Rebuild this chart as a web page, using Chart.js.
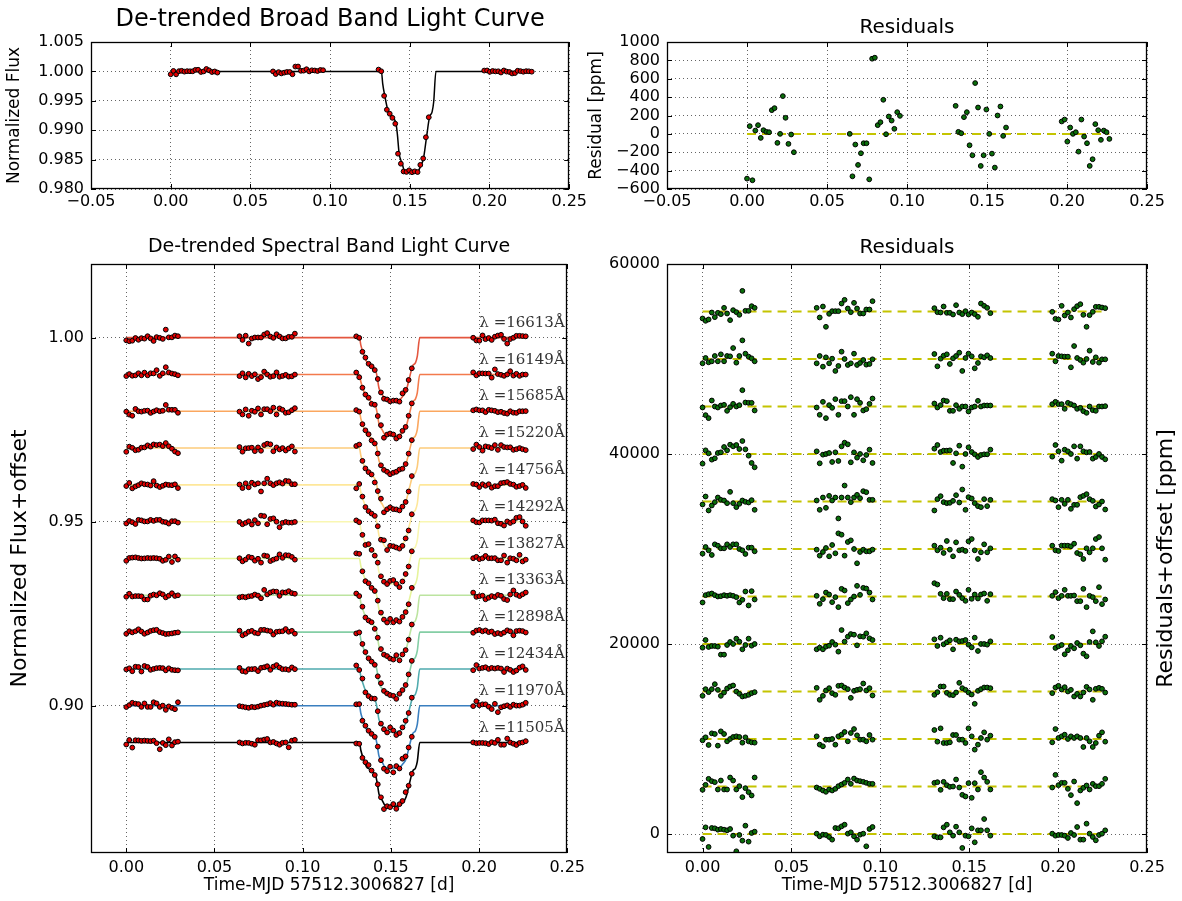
<!DOCTYPE html>
<html>
<head>
<meta charset="utf-8">
<script src="https://cdn.jsdelivr.net/npm/chart.js@4.4.1/dist/chart.umd.min.js"></script>
<style>
  html, body { margin: 0; padding: 0; background: #fff; }
  #wrap { position: relative; width: 1182px; height: 901px; overflow: hidden; }
  canvas { position: absolute; }
</style>
</head>
<body>
<div id="wrap">
  <canvas id="broadChart" width="590" height="215" style="left:0;top:0"></canvas>
  <canvas id="broadResidChart" width="597" height="215" style="left:585px;top:0"></canvas>
  <canvas id="bandChart" width="590" height="686" style="left:0;top:215px"></canvas>
  <canvas id="bandResidChart" width="597" height="686" style="left:585px;top:215px"></canvas>
</div>
<script>
// time of each exposure (d), four HST orbits
const times = [
  0.0000, 0.0017, 0.0034, 0.0052, 0.0069, 0.0086, 0.0103, 0.0121, 0.0138, 0.0155, 0.0172, 0.0190, 0.0207, 0.0224, 0.0241, 0.0259, 0.0276, 0.0293,
  0.0642, 0.0659, 0.0677, 0.0694, 0.0712, 0.0729, 0.0747, 0.0764, 0.0782, 0.0799, 0.0817, 0.0834, 0.0852, 0.0869, 0.0886, 0.0904, 0.0921, 0.0939, 0.0956,
  0.1304, 0.1321, 0.1339, 0.1356, 0.1374, 0.1391, 0.1409, 0.1426, 0.1444, 0.1461, 0.1479, 0.1496, 0.1514, 0.1531, 0.1549, 0.1566, 0.1584, 0.1601, 0.1619,
  0.1967, 0.1985, 0.2002, 0.2020, 0.2037, 0.2055, 0.2072, 0.2090, 0.2107, 0.2125, 0.2142, 0.2160, 0.2177, 0.2195, 0.2212, 0.2230, 0.2247, 0.2265
];

// broad band light curve
const broadFlux = [
  0.99951, 1.00008, 0.99950, 1.00004, 1.00010, 0.99996, 1.00004, 1.00002, 1.00002, 1.00026, 1.00028, 0.99990, 1.00000, 1.00041, 1.00018, 0.99989, 0.99999, 0.99980,
  1.00000, 0.99954, 0.99988, 0.99966, 0.99979, 0.99990, 0.99990, 0.99951, 1.00082, 1.00083, 1.00010, 1.00013, 1.00037, 1.00000, 1.00019, 1.00015, 1.00006, 1.00024, 1.00020,
  1.00031, 1.00002, 0.99584, 0.99348, 0.99280, 0.99210, 0.99110, 0.98600, 0.98430, 0.98298, 0.98290, 0.98318, 0.98285, 0.98300, 0.98288, 0.98410, 0.98520, 0.98880, 0.99220,
  1.00014, 1.00016, 0.99992, 1.00007, 1.00000, 1.00002, 0.99981, 1.00016, 0.99997, 0.99990, 0.99965, 0.99972, 1.00011, 1.00004, 0.99994, 1.00004, 1.00002, 0.99995
];
const broadResid = [
  -487, 84, -505, 36, 95, -44, 40, 22, 18, 258, 280, -98, 0, 411, 175, -109, -7, -200,
  0, -462, -116, -338, -211, -102, -102, -495, 818, 829, 95, 127, 371, -4, 189, 145, 55, 236, 196,
  305, 22, 7, 182, 236, -124, -233, 553, 287, -349, -233, 265, 0, -215, -367, 200, 298, -22, 69,
  135, 156, -84, 69, 0, 18, -193, 156, -29, -102, -349, -276, 106, 40, -65, 36, 18, -55
];

// transit model profile (fraction of full depth)
const modelTimes = [0.0000, 0.1322, 0.1330, 0.1343, 0.1362, 0.1380, 0.1397, 0.1414, 0.1422, 0.1433, 0.1452, 0.1468,
  0.1490, 0.1520, 0.1550, 0.1570, 0.1586, 0.1605, 0.1624, 0.1640, 0.1650, 0.1664, 0.2265];
const modelShape = [0, 0, 0.12, 0.24, 0.38, 0.42, 0.46, 0.52, 0.62, 0.81, 0.91, 0.99,
  1.00, 1.00, 0.99, 0.93, 0.86, 0.65, 0.45, 0.40, 0.30, 0, 0];
const broadDepth = 0.0172;
// model at the 19 in-transit exposures (third orbit)
const transitShape = [0, 0, 0.22, 0.35, 0.41, 0.45, 0.50, 0.70, 0.87, 0.96, 0.99, 1.00, 1.00, 0.99, 0.99, 0.94, 0.87, 0.70, 0.48];
const transitStart = 37;

// spectral bands, top to bottom
const bandWaves = [16613, 16149, 15685, 15220, 14756, 14292, 13827, 13363, 12898, 12434, 11970, 11505];
const bandBase = [1.00, 0.99, 0.98, 0.97, 0.96, 0.95, 0.94, 0.93, 0.92, 0.91, 0.90, 0.89];
const bandDepths = [0.0170, 0.0166, 0.0166, 0.0168, 0.0170, 0.0169, 0.0171, 0.0171, 0.0170, 0.0170, 0.0169, 0.0173];
const residOffsets = [55000, 50000, 45000, 40000, 35000, 30000, 25000, 20000, 15000, 10000, 5000, 0];
const bandColors = ["#e4563f", "#f37a4c", "#fba75f", "#fdcb7b", "#fee79a", "#f9f7b2", "#e6f49c",
  "#bce4a0", "#84cea5", "#4fabae", "#3a7fbf", "#000000"];

// residuals per band (ppm)
const resid16613 = [-735, -980, -840, -105, -595, -140, -280, 385, -210, -910, 140, -70, -350, 2170, 70, 70, 560, 385,
  385, -630, 525, -1610, -245, 35, 35, 35, 840, 1225, 315, -70, 910, 315, -210, -210, 210, 210, 1085,
  350, -70, -105, 525, -140, -140, -315, 665, -105, -280, 35, -315, -105, -280, -560, 840, 595, 385, -175,
  -35, -770, -840, 595, -420, -105, -630, 245, 560, 770, -350, -1610, -385, -35, 490, 490, 420, 350];
const resid16149 = [-455, 105, -350, -245, 315, -245, 490, -245, 315, 280, 1155, -385, 315, 1960, 560, 245, 70, -245,
  -455, 315, -805, 175, -455, 35, -1260, -735, 770, 0, -630, -455, 560, -630, -420, -105, -595, -525, -35,
  525, -770, 35, 350, 490, -525, 70, 315, 665, -1260, 105, 560, 280, -980, -420, 280, 175, 385, 105,
  560, -245, 315, 280, 245, 245, -875, 1365, 105, -105, -385, 0, 875, -315, 175, -385, -35, -35];
const resid15685 = [-105, -910, -1225, 630, 0, -105, 105, 175, -455, -70, 280, 0, 140, 1715, 420, 385, 385, -420,
  -105, -875, 490, -1225, 140, -140, 770, -875, 560, 560, 0, 980, -875, 770, 385, -420, -280, 280, 840,
  315, -105, 140, 630, 560, -455, -455, 140, -245, 0, 0, -525, -105, 0, 595, 0, 105, 105, 105,
  245, 490, 245, 245, -245, 385, 245, 105, -245, -140, -490, -665, 0, -385, -455, 0, 0, 35];
const resid15220 = [-1015, 385, 70, -595, -455, 105, 175, 735, 385, 980, 805, 945, 525, 1365, 490, -175, -945, -1400,
  280, -980, -70, 0, 105, -840, 175, -735, 805, 1190, 1015, -875, 175, -385, 0, -665, -105, 455, -945,
  560, 945, 210, 350, 350, 385, -945, 70, 875, -1330, 0, 700, 210, -35, -315, -105, -35, -35, 455,
  -280, 945, 280, -700, 455, 280, 0, 805, -490, 805, 280, 175, 210, -490, -315, 0, -315, -560];
const resid14756 = [-315, 525, -945, -420, -70, 420, 175, 105, -175, 1015, -175, -595, -245, 105, -35, -105, 140, -875,
  105, -875, 420, -665, 595, 105, 420, -1785, 420, 1680, 420, -70, 420, 700, 350, 1085, 980, 175, 175,
  -945, 245, 560, -70, -175, -140, 70, 665, -105, 1260, -875, 455, 315, -175, -490, -595, 245, -490, 175,
  245, 105, -595, 175, -245, 175, -770, -350, -350, 455, 595, 770, 245, 70, -525, -315, 0, -840];
const resid14292 = [-490, 210, -140, -630, 490, 350, 70, 70, 490, 210, 490, 490, 0, -140, -525, 140, 140, -245,
  -70, -700, -315, 105, -770, 420, -455, 1645, 1505, -700, 735, 910, 0, -1505, -315, -70, -245, -245, -70,
  350, -140, 140, -420, 840, -70, -770, 700, -140, -70, -210, 805, 1050, -140, -1050, -350, 490, -350, 70,
  350, -140, -210, 350, 350, 350, 280, 560, -420, -560, -1050, 70, -350, 70, 1050, 1260, 70, -1120];
const resid13827 = [-630, 140, 245, 315, 140, 0, 35, 140, 70, 140, 70, -70, -630, -350, 525, -945, 560, -315,
  70, -770, -280, 420, 210, -595, -70, -1120, 805, 630, -700, -315, 0, 1120, 175, 910, 840, 420, -315,
  1400, 1260, 280, -175, 280, -280, -280, 525, 175, -175, -455, 700, -245, 210, -210, 210, 315, -455, 245,
  70, 455, -175, 70, 700, 70, 70, 105, -490, -490, 805, -1120, 70, -70, -490, 980, -805, -315];
const resid13363 = [-385, 420, -315, -210, -210, -280, -1120, -1120, -105, 210, 0, 560, 245, -560, -105, 560, -175, 0,
  -560, -385, -560, -280, -175, 210, -70, -805, 1470, 245, 770, 1050, 980, -140, 805, 770, 1120, 595, 420,
  490, -210, 665, -35, 175, 385, -560, 455, 280, 315, 420, -70, -350, 665, -735, 0, 0, -70, 280,
  735, -420, -245, -105, -1085, -665, -210, -455, 105, -140, -1015, -1295, 210, 1330, 175, -210, 280, 770];
const resid12898 = [-455, 245, -70, 245, 770, 175, -455, -105, 315, 525, 630, 0, -245, -525, -455, -350, -175, -70,
  385, -875, -455, 105, 350, -175, -350, 595, 630, 420, 245, -665, 70, 175, 245, 840, 105, 350, -420,
  -350, -70, 525, 525, -140, -350, -385, -105, 910, 350, 175, -105, -315, -1295, 70, 245, 420, 420, 350,
  -175, 420, 595, 210, 455, 0, 175, -525, -245, -525, -105, 490, 210, -875, 280, 385, 280, -105];
const resid12434 = [-140, 175, -630, 595, 525, -700, 805, 525, -245, 0, 210, 280, 210, -385, 175, -245, -350, -385,
  280, -595, -770, -70, -70, 0, -595, 280, 455, 735, -245, 630, 1050, 385, -70, -70, -245, 420, -70,
  945, -280, 1120, -420, -420, -350, 420, 420, -70, -70, -420, 1120, 280, -1120, -595, 105, 700, -70, 350,
  -350, 1050, 105, 280, 455, 0, 280, 105, 280, 105, -840, 105, -245, -840, -420, 350, 700, -280];
const resid11970 = [-350, 175, 805, 560, 455, -315, 630, -315, -315, 945, 630, -315, 35, -1120, -175, -595, -945, 945,
  -105, -245, -420, -560, -315, -420, -245, 35, 210, 385, 735, 280, 840, 630, 560, 490, 385, 280, 280,
  385, 455, -350, 490, 140, -35, 0, 735, -105, -875, -1050, 350, -1190, 350, -315, 1505, 945, 490, -315,
  -105, 1225, 140, 385, 385, -245, -910, 525, -1750, -420, -140, 105, -315, 280, 35, 35, 280, 805];
const resid11505 = [-525, 700, -1365, 630, 595, 455, 525, 455, 385, 525, -175, -1820, -105, -700, 875, -805, 105, 245,
  35, -245, -70, -105, -315, -595, 630, 595, 805, 980, 35, 175, -245, -595, -70, 35, -1295, 525, 735,
  -245, -350, -350, 700, 980, 175, -175, 770, 175, -1470, -175, -245, 595, -875, 385, 385, 1575, 385, -175,
  35, -175, -105, -105, -175, -420, 105, -105, 735, -595, -595, 1085, 35, -315, -665, -105, 35, 385];
const bandResid = [resid16613, resid16149, resid15685, resid15220, resid14756, resid14292,
  resid13827, resid13363, resid12898, resid12434, resid11970, resid11505];

// tick labels
const xTicksTop = [-0.05, 0.00, 0.05, 0.10, 0.15, 0.20, 0.25];
const xTicksBottom = [0.00, 0.05, 0.10, 0.15, 0.20, 0.25];
const yTicksBroad = [0.980, 0.985, 0.990, 0.995, 1.000, 1.005];
const yTicksResid = [-600, -400, -200, 0, 200, 400, 600, 800, 1000];
const yTicksBand = [0.90, 0.95, 1.00];
const yTicksOffset = [0, 20000, 40000, 60000];

[broadFlux, broadResid, ...bandResid].forEach((arr, i) => {
  if (arr.length !== times.length) throw new Error("series " + i + " has " + arr.length + " values");
});

const FONT = "DejaVu Sans";
const tickFont = { family: FONT, size: 16 };
const minus = s => s.replace("-", "\u2212");

function makeScale(position, min, max, ticks, fmt, size, pad, title) {
  const horizontal = position === "bottom";
  return {
    type: "linear",
    position: position,
    min: min,
    max: max,
    afterBuildTicks: s => { s.ticks = ticks.map(v => ({ value: v })); },
    afterFit: s => { if (horizontal) s.height = size; else s.width = size; },
    grid: { color: "#222", lineWidth: 0.7, drawTicks: false },
    border: { display: false, dash: [1, 3] },
    ticks: { color: "#000", font: tickFont, padding: pad, autoSkip: false, maxRotation: 0, callback: v => fmt(v) },
    title: title || { display: false },
  };
}

function makeOptions(cfg) {
  return {
    responsive: false,
    animation: false,
    events: [],
    layout: { padding: { left: 0, right: cfg.padRight, top: 0, bottom: 0 } },
    plugins: {
      legend: { display: false },
      tooltip: { enabled: false },
      title: {
        display: true,
        text: cfg.title,
        fullSize: false,
        color: "#000",
        font: { family: FONT, size: cfg.titleSize, weight: "normal" },
        padding: cfg.titlePad,
      },
    },
    scales: { x: cfg.x, y: cfg.y },
  };
}

// box round the plot, with matplotlib-style inward ticks on all four sides
const framePlugin = {
  id: "frame",
  afterDraw(chart) {
    const { ctx, chartArea: a, scales } = chart;
    ctx.save();
    ctx.strokeStyle = "#000";
    ctx.lineWidth = 1;
    ctx.beginPath();
    scales.x.ticks.forEach(t => {
      const px = Math.round(scales.x.getPixelForValue(t.value)) + 0.5;
      ctx.moveTo(px, a.bottom); ctx.lineTo(px, a.bottom - 5);
      ctx.moveTo(px, a.top); ctx.lineTo(px, a.top + 5);
    });
    scales.y.ticks.forEach(t => {
      const py = Math.round(scales.y.getPixelForValue(t.value)) + 0.5;
      ctx.moveTo(a.left, py); ctx.lineTo(a.left + 5, py);
      ctx.moveTo(a.right, py); ctx.lineTo(a.right - 5, py);
    });
    ctx.stroke();
    ctx.lineWidth = 1.3;
    ctx.strokeRect(Math.round(a.left) + 0.5, Math.round(a.top) + 0.5,
      Math.round(a.right - a.left) - 1, Math.round(a.bottom - a.top) - 1);
    ctx.restore();
  },
};

const redDots = { pointRadius: 2.4, pointBackgroundColor: "#e00000", pointBorderColor: "#000", pointBorderWidth: 1, showLine: false };
const greenDots = { pointRadius: 2.4, pointBackgroundColor: "#0a6e0a", pointBorderColor: "#000", pointBorderWidth: 1, showLine: false };
const zeroLine = { showLine: true, pointRadius: 0, borderColor: "#c4c400", borderWidth: 2, borderDash: [9, 6] };
const tStart = times[0];
const tEnd = times[times.length - 1];

// --- top left: broad band light curve
new Chart(document.getElementById("broadChart"), {
  type: "scatter",
  data: {
    datasets: [
      {
        data: modelTimes.map((t, i) => ({ x: t, y: 1 - broadDepth * modelShape[i] })),
        showLine: true, pointRadius: 0, borderColor: "#000", borderWidth: 1.5,
        cubicInterpolationMode: "monotone", order: 2,
      },
      { data: times.map((t, i) => ({ x: t, y: broadFlux[i] })), ...redDots, order: 1 },
    ],
  },
  options: makeOptions({
    title: "De-trended Broad Band Light Curve", titleSize: 24, titlePad: { top: 5.6, bottom: 7.6 },
    padRight: 19,
    x: makeScale("bottom", -0.05, 0.25, xTicksTop, v => minus(v.toFixed(2)), 26, 3),
    y: makeScale("left", 0.980, 1.005, yTicksBroad, v => v.toFixed(3), 91, 7,
      { display: true, text: "Normalized Flux", color: "#000", font: { family: FONT, size: 17 }, padding: { top: 4.8, bottom: 0 } }),
  }),
  plugins: [framePlugin],
});

// --- top right: broad band residuals
new Chart(document.getElementById("broadResidChart"), {
  type: "scatter",
  data: {
    datasets: [
      { data: [{ x: tStart, y: 0 }, { x: tEnd, y: 0 }], ...zeroLine, order: 2 },
      { data: times.map((t, i) => ({ x: t, y: broadResid[i] })), ...greenDots, order: 1 },
    ],
  },
  options: makeOptions({
    title: "Residuals", titleSize: 20, titlePad: { top: 16, bottom: 2 },
    padRight: 35,
    x: makeScale("bottom", -0.05, 0.25, xTicksTop, v => minus(v.toFixed(2)), 26, 3),
    y: makeScale("left", -600, 1000, yTicksResid, v => minus(String(v)), 82, 7,
      { display: true, text: "Residual [ppm]", color: "#000", font: { family: FONT, size: 17 }, padding: { top: 1.8, bottom: 0 } }),
  }),
  plugins: [framePlugin],
});

// --- bottom left: spectral light curves
const bandDatasets = [];
bandWaves.forEach((w, b) => {
  bandDatasets.push({
    data: modelTimes.map((t, i) => ({ x: t, y: bandBase[b] - bandDepths[b] * modelShape[i] })),
    showLine: true, pointRadius: 0, borderColor: bandColors[b], borderWidth: 1.6,
    cubicInterpolationMode: "monotone", order: 2,
  });
  bandDatasets.push({
    data: times.map((t, i) => {
      const k = i - transitStart;
      const shape = k >= 0 && k < transitShape.length ? transitShape[k] : 0;
      return { x: t, y: bandBase[b] - bandDepths[b] * shape + bandResid[b][i] * 1e-6 };
    }),
    ...redDots, order: 1,
  });
});

const bandLabelPlugin = {
  id: "bandLabels",
  afterDatasetsDraw(chart) {
    const { ctx, scales: { x, y } } = chart;
    ctx.save();
    ctx.font = '15px "DejaVu Serif"';
    ctx.fillStyle = "#333";
    ctx.textAlign = "left";
    ctx.textBaseline = "middle";
    bandWaves.forEach((w, b) => {
      ctx.fillText("\u03bb =" + w + "\u00c5", x.getPixelForValue(0.2002), y.getPixelForValue(bandBase[b] + 0.004));
    });
    ctx.restore();
  },
};

const xTitle = { display: true, text: "Time-MJD 57512.3006827 [d]", color: "#000", font: { family: FONT, size: 17 }, padding: { top: 0, bottom: 5 } };

new Chart(document.getElementById("bandChart"), {
  type: "scatter",
  data: { datasets: bandDatasets },
  options: makeOptions({
    title: "De-trended Spectral Band Light Curve", titleSize: 19, titlePad: { top: 20.6, bottom: 5.6 },
    padRight: 19,
    x: makeScale("bottom", -0.02, 0.25, xTicksBottom, v => v.toFixed(2), 48, 5, xTitle),
    y: makeScale("left", 0.86, 1.02, yTicksBand, v => v.toFixed(2), 91, 7,
      { display: true, text: "Normalized Flux+offset", color: "#000", font: { family: FONT, size: 22 }, padding: { top: 6.8, bottom: 0 } }),
  }),
  plugins: [bandLabelPlugin, framePlugin],
});

// --- bottom right: spectral residuals with offsets
const residDatasets = [];
bandWaves.forEach((w, b) => {
  residDatasets.push({ data: [{ x: tStart, y: residOffsets[b] }, { x: tEnd, y: residOffsets[b] }], ...zeroLine, order: 2 });
  residDatasets.push({ data: times.map((t, i) => ({ x: t, y: residOffsets[b] + bandResid[b][i] })), ...greenDots, order: 1 });
});

const rightTitlePlugin = {
  id: "rightTitle",
  afterDraw(chart) {
    const { ctx, chartArea: a } = chart;
    ctx.save();
    ctx.translate(chart.width - 16, (a.top + a.bottom) / 2);
    ctx.rotate(-Math.PI / 2);
    ctx.font = "22px " + FONT;
    ctx.fillStyle = "#000";
    ctx.textAlign = "center";
    ctx.textBaseline = "middle";
    ctx.fillText("Residuals+offset [ppm]", 0, 0);
    ctx.restore();
  },
};

new Chart(document.getElementById("bandResidChart"), {
  type: "scatter",
  data: { datasets: residDatasets },
  options: makeOptions({
    title: "Residuals", titleSize: 20, titlePad: { top: 21, bottom: 4 },
    padRight: 35,
    x: makeScale("bottom", -0.02, 0.25, xTicksBottom, v => v.toFixed(2), 48, 5, xTitle),
    y: makeScale("left", -2000, 60000, yTicksOffset, v => String(v), 82, 7),
  }),
  plugins: [framePlugin, rightTitlePlugin],
});
</script>
</body>
</html>
